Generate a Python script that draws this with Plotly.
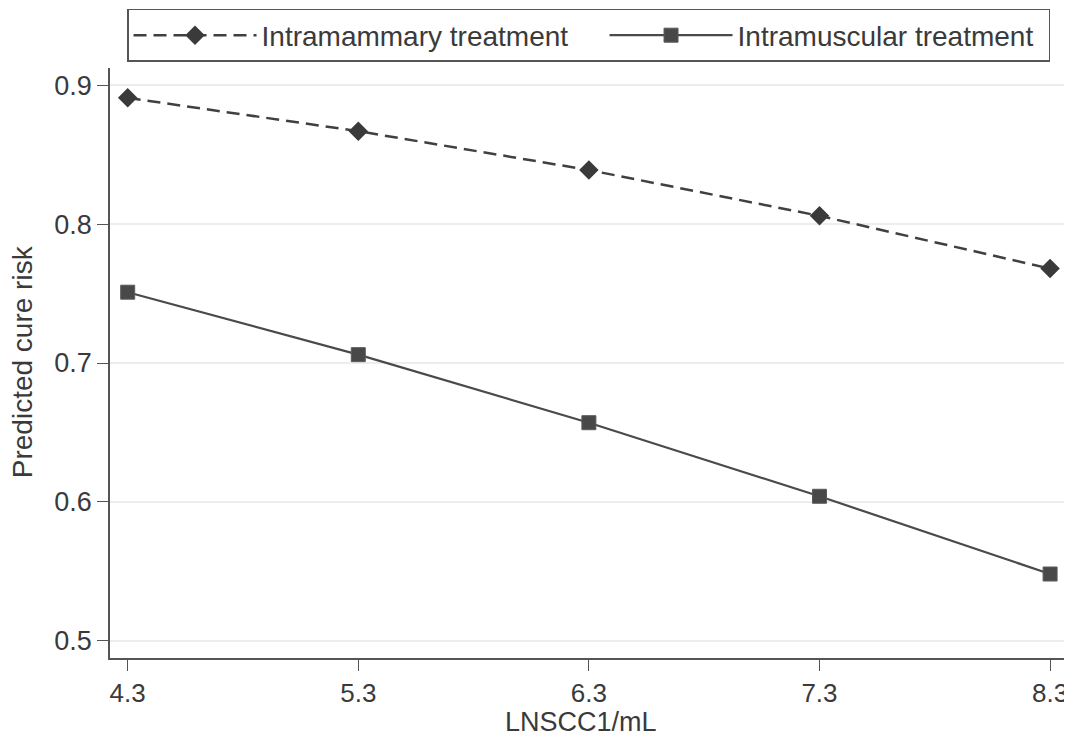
import plotly.graph_objects as go

x_vals = [4.3, 5.3, 6.3, 7.3, 8.3]
intramammary = [0.891, 0.867, 0.839, 0.806, 0.768]
intramuscular = [0.751, 0.706, 0.657, 0.604, 0.548]
x_ticks = [4.3, 5.3, 6.3, 7.3, 8.3]
x_tick_labels = ["4.3", "5.3", "6.3", "7.3", "8.3"]
y_ticks = [0.5, 0.6, 0.7, 0.8, 0.9]
y_tick_labels = ["0.5", "0.6", "0.7", "0.8", "0.9"]
x_title = "LNSCC1/mL"
y_title = "Predicted cure risk"

FONT = "Liberation Sans, Arial, Helvetica, sans-serif"
DARK = "#404040"
TXT = "#3a3a3a"

fig = go.Figure()
fig.add_trace(go.Scatter(
    x=x_vals, y=intramammary, name="Intramammary treatment",
    mode="lines+markers",
    line=dict(color=DARK, width=2.5, dash="13px,7px"),
    marker=dict(symbol="diamond", size=15, color="#3a3a3a"),
    legendwidth=338,
))
fig.add_trace(go.Scatter(
    x=x_vals, y=intramuscular, name="Intramuscular treatment",
    mode="lines+markers",
    line=dict(color="#4a4a4a", width=2.2),
    marker=dict(symbol="square", size=14, color="#484848",
                line=dict(color="#5a5a5a", width=1)),
    legendwidth=306,
))

# the page body adds an 8px offset; figure sized to fill the rest of the window
fig.update_layout(
    width=1064, height=730,
    margin=dict(l=102, r=0, t=60, b=80, autoexpand=False),
    paper_bgcolor="white", plot_bgcolor="white",
    font=dict(family=FONT, color=TXT),
    showlegend=True,
    legend=dict(
        orientation="h", x=0.0177, xanchor="left", y=1.0102, yanchor="bottom",
        bordercolor="#555555", borderwidth=1.5, bgcolor="white",
        font=dict(size=28, family=FONT, color=TXT),
        itemwidth=123, tracegroupgap=0,
    ),
    annotations=[
        dict(text=x_title, xref="paper", yref="paper", x=0.4896, y=-0.1085,
             xanchor="center", yanchor="middle", showarrow=False, borderpad=0,
             font=dict(size=27, family=FONT, color=TXT)),
        dict(text=y_title, xref="paper", yref="paper", x=-0.0902, y=0.5017,
             xanchor="center", yanchor="middle", showarrow=False, textangle=-90,
             font=dict(size=28, family=FONT, color=TXT)),
    ],
)
fig.update_xaxes(
    range=[4.2233, 8.395], tickvals=x_ticks, ticktext=x_tick_labels,
    showgrid=False, zeroline=False,
    showline=True, linecolor="#555555", linewidth=1.5,
    ticks="outside", ticklen=11, tickwidth=1.2, tickcolor="#555555",
    tickfont=dict(size=26, family=FONT, color=TXT),
)
fig.update_yaxes(
    range=[0.4875, 0.9125], tickvals=y_ticks, ticktext=y_tick_labels,
    showgrid=True, gridcolor="#ededed", gridwidth=2, zeroline=False,
    showline=True, linecolor="#555555", linewidth=1.5,
    ticks="outside", ticklen=11, tickwidth=1.2, tickcolor="#555555",
    tickfont=dict(size=27, family=FONT, color=TXT),
)

fig.write_html("out.html")
